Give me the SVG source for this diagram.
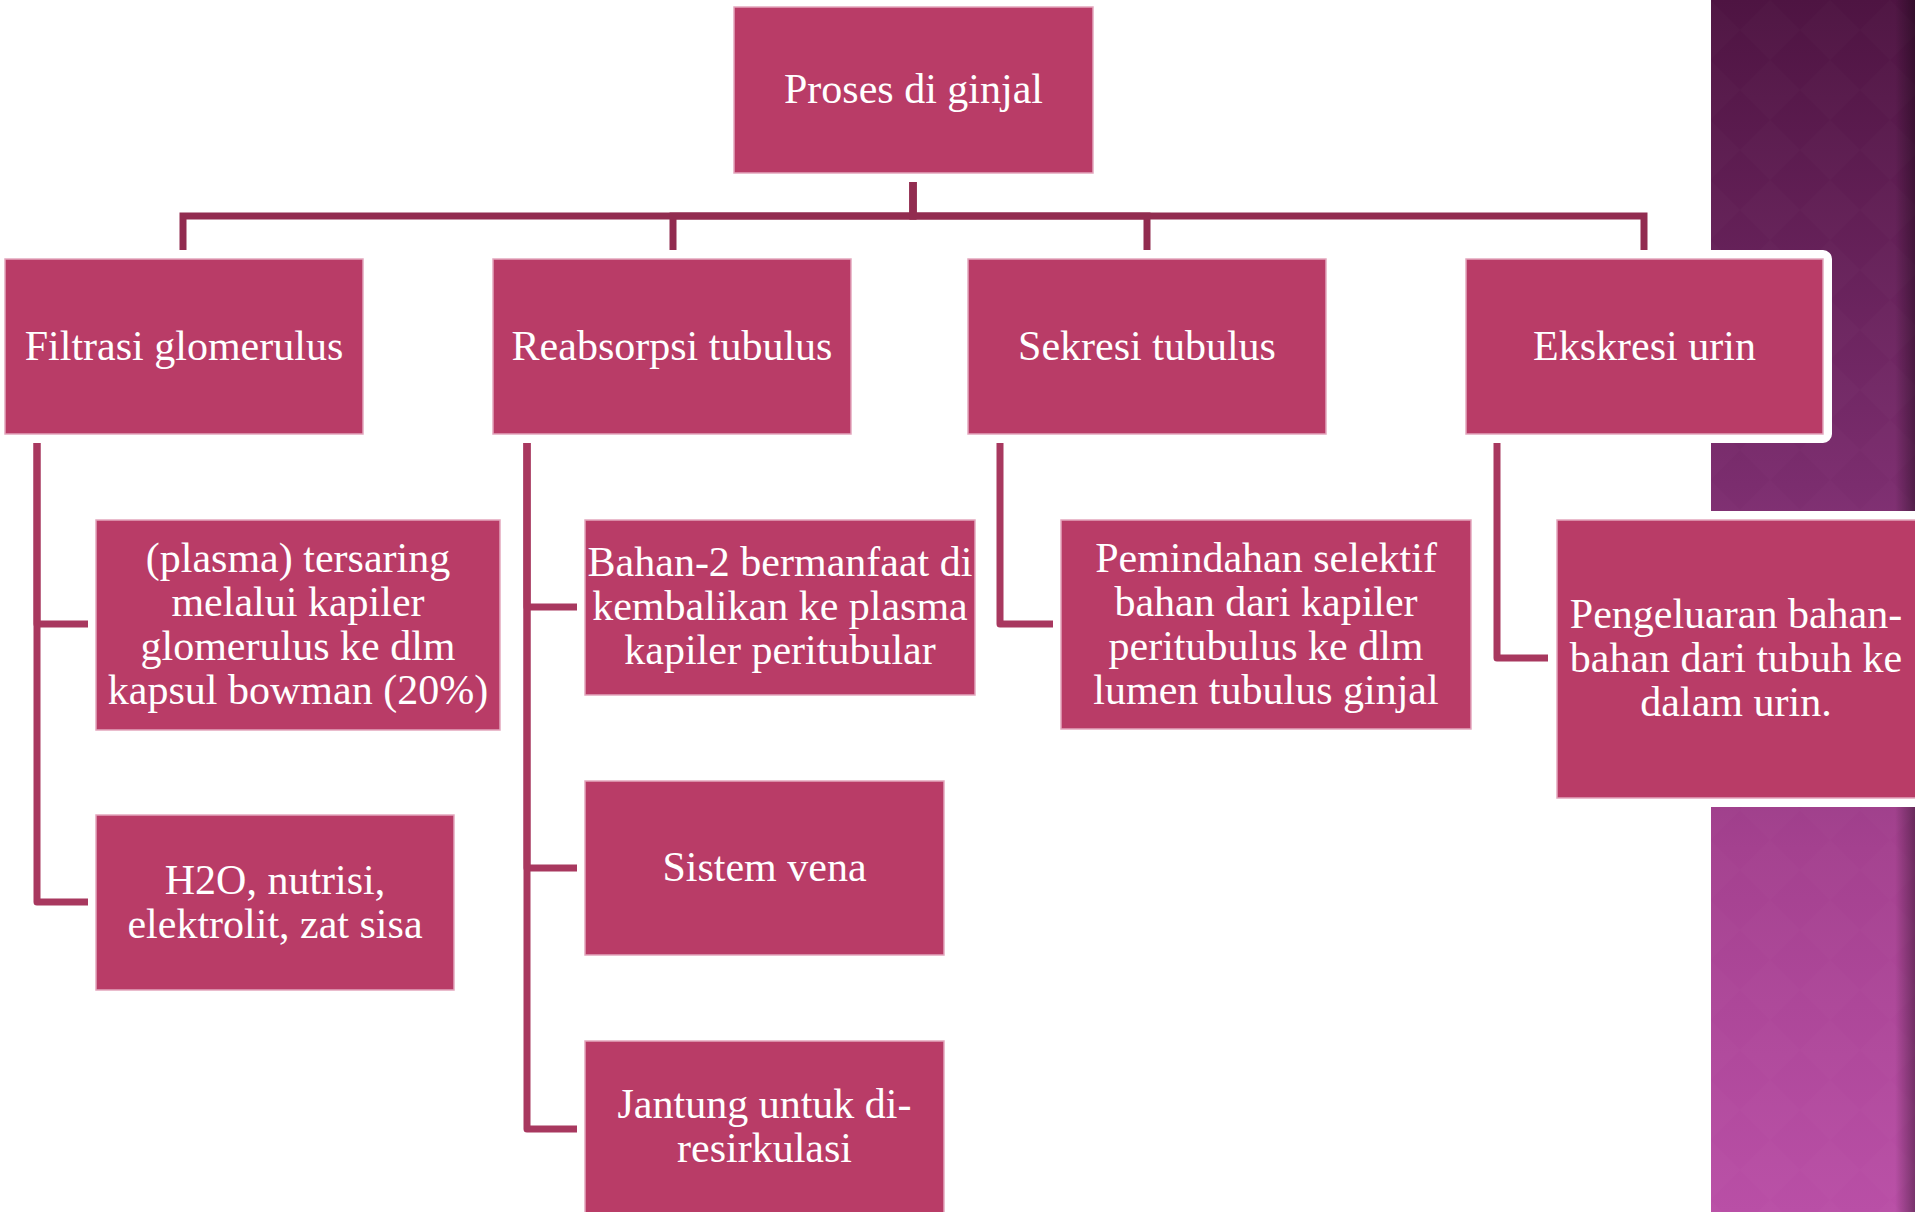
<svg xmlns="http://www.w3.org/2000/svg" width="1915" height="1212" viewBox="0 0 1915 1212">
<defs>
<linearGradient id="band" x1="0" y1="0" x2="0" y2="1">
<stop offset="0" stop-color="#4e1442"/>
<stop offset="0.4" stop-color="#7b2d6e"/>
<stop offset="0.7" stop-color="#a4418f"/>
<stop offset="1" stop-color="#b94fa6"/>
</linearGradient>
<linearGradient id="edge" x1="0" y1="0" x2="1" y2="0">
<stop offset="0" stop-color="#000" stop-opacity="0"/>
<stop offset="1" stop-color="#000" stop-opacity="0.35"/>
</linearGradient>
<pattern id="diam" width="60" height="60" patternUnits="userSpaceOnUse">
<path d="M30 0 L60 30 L30 60 L0 30 Z" fill="#fff" fill-opacity="0.012"/>
</pattern>
</defs>
<style>
.box{fill:#b93c67;stroke:#e3a6bd;stroke-width:1.5}
.halo{fill:#fff;stroke:#fff;stroke-width:18;stroke-linejoin:round}
.t{font-family:"Liberation Serif","Times New Roman",serif;font-size:42px;fill:#fff;text-anchor:middle}
.c1{fill:none;stroke:#922c50;stroke-width:7}
.c2{fill:none;stroke:#a8385f;stroke-width:7;stroke-linejoin:round}
</style>
<rect width="1915" height="1212" fill="#fff"/>
<g id="background">
<rect x="1711" y="0" width="204" height="1212" fill="url(#band)"/>
<rect x="1711" y="0" width="204" height="1212" fill="url(#diam)"/>
<rect x="1895" y="0" width="20" height="1212" fill="url(#edge)"/>
</g>
<g id="connectors">
<path class="c1" d="M913 182 V216 H183 V250"/>
<path class="c1" d="M913 182 V216 H673 V250"/>
<path class="c1" d="M913 182 V216 H1147 V250"/>
<path class="c1" d="M913 182 V216 H1644 V250"/>
<path class="c2" d="M37 443 V624 H88"/>
<path class="c2" d="M37 443 V902 H88"/>
<path class="c2" d="M527 443 V607 H577"/>
<path class="c2" d="M527 443 V868 H577"/>
<path class="c2" d="M527 443 V1129 H577"/>
<path class="c2" d="M1000 443 V624 H1053"/>
<path class="c2" d="M1497 443 V658 H1548"/>
</g>
<g id="n-root">
<rect class="box" x="734" y="7" width="359" height="166"/>
<text class="t" x="913.5" y="103">Proses di ginjal</text>
</g>
<g id="n-filtrasi">
<rect class="box" x="5" y="259" width="358" height="175"/>
<text class="t" x="184" y="360">Filtrasi glomerulus</text>
</g>
<g id="n-reabsorpsi">
<rect class="box" x="493" y="259" width="358" height="175"/>
<text class="t" x="672" y="360">Reabsorpsi tubulus</text>
</g>
<g id="n-sekresi">
<rect class="box" x="968" y="259" width="358" height="175"/>
<text class="t" x="1147" y="360">Sekresi tubulus</text>
</g>
<g id="n-ekskresi">
<rect class="halo" x="1466" y="259" width="357" height="175"/>
<rect class="box" x="1466" y="259" width="357" height="175"/>
<text class="t" x="1644.5" y="360">Ekskresi urin</text>
</g>
<g id="n-plasma">
<rect class="box" x="96" y="520" width="404" height="210"/>
<text class="t" x="298" y="572">(plasma) tersaring</text>
<text class="t" x="298" y="616">melalui kapiler</text>
<text class="t" x="298" y="660">glomerulus ke dlm</text>
<text class="t" x="298" y="704">kapsul bowman (20%)</text>
</g>
<g id="n-h2o">
<rect class="box" x="96" y="815" width="358" height="175"/>
<text class="t" x="275" y="893.5">H2O, nutrisi,</text>
<text class="t" x="275" y="937.5">elektrolit, zat sisa</text>
</g>
<g id="n-bahan">
<rect class="box" x="585" y="520" width="390" height="175"/>
<text class="t" x="780" y="576">Bahan-2 bermanfaat di</text>
<text class="t" x="780" y="620">kembalikan ke plasma</text>
<text class="t" x="780" y="664">kapiler peritubular</text>
</g>
<g id="n-vena">
<rect class="box" x="585" y="781" width="359" height="174"/>
<text class="t" x="764.5" y="881">Sistem vena</text>
</g>
<g id="n-jantung">
<rect class="box" x="585" y="1041" width="359" height="180"/>
<text class="t" x="764.5" y="1118">Jantung untuk di-</text>
<text class="t" x="764.5" y="1162">resirkulasi</text>
</g>
<g id="n-pemindahan">
<rect class="box" x="1061" y="520" width="410" height="209"/>
<text class="t" x="1266" y="571.5">Pemindahan selektif</text>
<text class="t" x="1266" y="615.5">bahan dari kapiler</text>
<text class="t" x="1266" y="659.5">peritubulus ke dlm</text>
<text class="t" x="1266" y="703.5">lumen tubulus ginjal</text>
</g>
<g id="n-pengeluaran">
<rect class="halo" x="1557" y="520" width="370" height="278"/>
<rect class="box" x="1557" y="520" width="370" height="278"/>
<text class="t" x="1736" y="628">Pengeluaran bahan-</text>
<text class="t" x="1736" y="672">bahan dari tubuh ke</text>
<text class="t" x="1736" y="716">dalam urin.</text>
</g>
</svg>
